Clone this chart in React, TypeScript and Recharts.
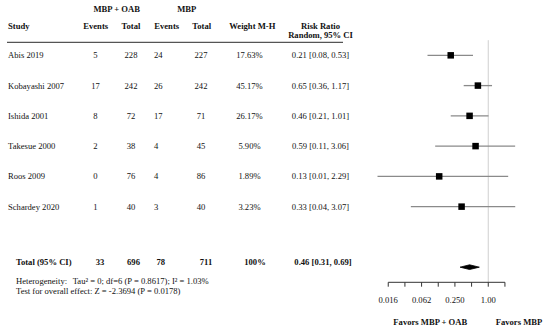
import { ComposedChart, Scatter, ErrorBar, Area, XAxis, YAxis, ReferenceLine } from 'recharts';

const studies = ['Abis 2019', 'Kobayashi 2007', 'Ishida 2001', 'Takesue 2000', 'Roos 2009', 'Schardey 2020'];
const eventsOab = [5, 17, 8, 2, 0, 1];
const totalOab = [228, 242, 72, 38, 76, 40];
const eventsMbp = [24, 26, 17, 4, 4, 3];
const totalMbp = [227, 242, 71, 45, 86, 40];
const weights = [17.63, 45.17, 26.17, 5.9, 1.89, 3.23];
const riskRatio = [0.21, 0.65, 0.46, 0.59, 0.13, 0.33];
const ciLower = [0.08, 0.36, 0.21, 0.11, 0.01, 0.04];
const ciUpper = [0.53, 1.17, 1.01, 3.06, 2.29, 3.07];

const pooled = { eventsOab: 33, totalOab: 696, eventsMbp: 78, totalMbp: 711, weight: '100%', rr: 0.46, lo: 0.31, hi: 0.69 };

const tickValues = [0.015625, 0.03125, 0.0625, 0.125, 0.25, 0.5, 1, 2];
const tickLabels = ['0.016', '', '0.062', '', '0.250', '', '1.00', ''];

const TOTAL_ROW = 7;
const FONT = '"Liberation Serif", "Times New Roman", serif';
const FS = 8.6;

const fmtCi = (r: number, lo: number, hi: number) => `${r.toFixed(2)} [${lo.toFixed(2)}, ${hi.toFixed(2)}]`;

const studyData = riskRatio.map((r, i) => ({
  x: Math.log2(r),
  y: i,
  err: [Math.log2(r) - Math.log2(ciLower[i]), Math.log2(ciUpper[i]) - Math.log2(r)],
}));

const diamondHalf = 0.078;
const diamondData = [
  { x: Math.log2(pooled.lo), band: [TOTAL_ROW, TOTAL_ROW] },
  { x: Math.log2(pooled.rr), band: [TOTAL_ROW - diamondHalf, TOTAL_ROW + diamondHalf] },
  { x: Math.log2(pooled.hi), band: [TOTAL_ROW, TOTAL_ROW] },
];

const T = (props: any) => <text fontFamily={FONT} fontSize={FS} fill="#111" dy={3} {...props} />;

function RowTick(props: any) {
  const { y, payload } = props;
  const i = payload.value;
  if (i === TOTAL_ROW) {
    const ty = y - 5.5;
    return (
      <g fontWeight="bold">
        <T x={16} y={ty} textAnchor="start" fontWeight="bold">Total (95% CI)</T>
        <T x={100} y={ty} textAnchor="middle" fontWeight="bold">{pooled.eventsOab}</T>
        <T x={133.5} y={ty} textAnchor="middle" fontWeight="bold">{pooled.totalOab}</T>
        <T x={156.5} y={ty} textAnchor="start" fontWeight="bold">{pooled.eventsMbp}</T>
        <T x={206} y={ty} textAnchor="middle" fontWeight="bold">{pooled.totalMbp}</T>
        <T x={255} y={ty} textAnchor="middle" fontWeight="bold">{pooled.weight}</T>
        <T x={323} y={ty} textAnchor="middle" fontWeight="bold">{fmtCi(pooled.rr, pooled.lo, pooled.hi)}</T>
      </g>
    );
  }
  return (
    <g>
      <T x={8} y={y} textAnchor="start">{studies[i]}</T>
      <T x={95.5} y={y} textAnchor="middle">{eventsOab[i]}</T>
      <T x={131} y={y} textAnchor="middle">{totalOab[i]}</T>
      <T x={154} y={y} textAnchor="start">{eventsMbp[i]}</T>
      <T x={201} y={y} textAnchor="middle">{totalMbp[i]}</T>
      <T x={249.5} y={y} textAnchor="middle">{weights[i].toFixed(2)}%</T>
      <T x={320.5} y={y} textAnchor="middle">{fmtCi(riskRatio[i], ciLower[i], ciUpper[i])}</T>
    </g>
  );
}

const Square = (p: any) => <rect x={p.cx - 3.25} y={p.cy - 3.25} width={6.5} height={6.5} fill="#000" />;

export default function App() {
  return (
    <div style={{ position: 'absolute', left: 0, top: 0, width: 550, height: 332, background: '#fff' }}>
      <ComposedChart width={550} height={332} margin={{ top: 40.2, right: 3.4, bottom: 9.7, left: 0 }}>
        <XAxis
          type="number"
          dataKey="x"
          domain={[-8, 3.5]}
          ticks={tickValues.map((v) => Math.log2(v))}
          interval={0}
          tickFormatter={(v: number) => tickLabels[tickValues.findIndex((t) => Math.abs(Math.log2(t) - v) < 1e-6)]}
          axisLine={false}
          stroke="#333"
          tickSize={4.4}
          tickMargin={10.2}
          height={40}
          tick={{ fontFamily: FONT, fontSize: FS, fill: '#111' }}
        />
        <YAxis
          type="number"
          dataKey="y"
          domain={[-0.5, 7.5]}
          reversed
          ticks={[0, 1, 2, 3, 4, 5, TOTAL_ROW]}
          interval={0}
          width={354.9}
          axisLine={false}
          tickLine={false}
          tick={(p: any) => <RowTick {...p} />}
        />
        <ReferenceLine x={0} stroke="#cfcfcf" strokeWidth={1} />
        <ReferenceLine
          segment={[{ x: Math.log2(tickValues[0]), y: 7.5 }, { x: Math.log2(tickValues[tickValues.length - 1]), y: 7.5 }]}
          stroke="#333"
          strokeWidth={1}
          ifOverflow="visible"
        />
        <Scatter data={studyData} shape={Square} isAnimationActive={false}>
          <ErrorBar dataKey="err" direction="x" width={0} stroke="#8a8a8a" strokeWidth={1.3} isAnimationActive={false} />
        </Scatter>
        <Area
          data={diamondData}
          dataKey="band"
          type="linear"
          fill="#000"
          fillOpacity={1}
          stroke="#000"
          strokeWidth={0.8}
          dot={false}
          activeDot={false}
          isAnimationActive={false}
        />
      </ComposedChart>
      <svg width={550} height={332} style={{ position: 'absolute', left: 0, top: 0, pointerEvents: 'none' }}>
        <g fontWeight="bold">
          <T x={116.7} y={9} textAnchor="middle" fontWeight="bold">MBP + OAB</T>
          <T x={186.7} y={9} textAnchor="middle" fontWeight="bold">MBP</T>
          <T x={8} y={26} textAnchor="start" fontWeight="bold">Study</T>
          <T x={95.7} y={26} textAnchor="middle" fontWeight="bold">Events</T>
          <T x={131} y={26} textAnchor="middle" fontWeight="bold">Total</T>
          <T x={166.7} y={26} textAnchor="middle" fontWeight="bold">Events</T>
          <T x={201.7} y={26} textAnchor="middle" fontWeight="bold">Total</T>
          <T x={252.3} y={26} textAnchor="middle" fontWeight="bold">Weight M-H</T>
          <T x={320.5} y={26} textAnchor="middle" fontWeight="bold">Risk Ratio</T>
          <T x={320.5} y={34.5} textAnchor="middle" fontWeight="bold">Random, 95% CI</T>
          <T x={430.3} y={321.7} textAnchor="middle" fontWeight="bold">Favors MBP + OAB</T>
          <T x={519} y={321.7} textAnchor="middle" fontWeight="bold">Favors MBP</T>
        </g>
        <line x1={7} x2={343} y1={42.3} y2={42.3} stroke="#555" strokeWidth={1.3} />
        <T x={16} y={281} textAnchor="start">Heterogeneity:</T>
        <T x={72.7} y={281} textAnchor="start">Tau² = 0; df=6 (P = 0.8617); I² = 1.03%</T>
        <T x={16} y={291} textAnchor="start">Test for overall effect: Z = -2.3694 (P = 0.0178)</T>
      </svg>
    </div>
  );
}
